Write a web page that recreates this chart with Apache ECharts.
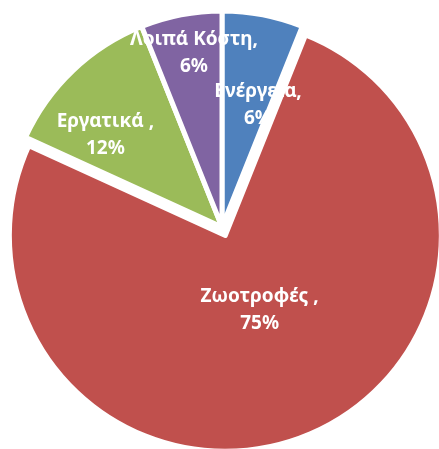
<!DOCTYPE html>
<html>
<head>
<meta charset="utf-8">
<script src="https://cdn.jsdelivr.net/npm/echarts@6/dist/echarts.min.js"></script>
<style>
html,body{margin:0;padding:0;background:#fff;}
#costPie{width:439px;height:449px;}
</style>
</head>
<body>
<div id="costPie"></div>
<script>
// κατηγορίες κόστους και ποσοστά
var categories = ['Ενέργεια', 'Ζωοτροφές ', 'Εργατικά ', 'Λοιπά Κόστη'];
var shares = [6, 75, 12, 6];
var colors = ['#4F81BD', '#C0504D', '#9BBB59', '#8064A2'];

(function(){
	draw_cost_pie();
})();

function draw_cost_pie(){
	var costPie = echarts.init(document.getElementById('costPie'));
	// μετατόπιση ετικετών σε σχέση με τη θέση 'inside'
	var labelOffsets = [[15, -13], [-7, -28], [-40, -12], [-7, -65]];
	var pieData = [];
	for (var i = 0; i < categories.length; i++) {
		pieData.push({
			name: categories[i],
			value: shares[i],
			selected: i === 1,
			itemStyle: { color: colors[i] },
			label: { offset: labelOffsets[i] },
			select: { label: { offset: labelOffsets[i] } }
		});
	}
	var costPie_option = {
		animation: false,
		series: [
			{
				type: 'pie',
				center: [222, 227],
				radius: [0, 216],
				startAngle: 90,
				selectedMode: 'single',
				selectedOffset: 9,
				avoidLabelOverlap: false,
				labelLayout: { hideOverlap: false },
				itemStyle: {
					borderColor: '#ffffff',
					borderWidth: 5
				},
				label: {
					show: true,
					position: 'inside',
					color: '#ffffff',
					fontFamily: 'Noto Sans',
					fontWeight: 'bold',
					fontSize: 19,
					lineHeight: 27,
					align: 'center',
					formatter: function(p){ return p.name + ',\n' + p.value + '%'; }
				},
				labelLine: { show: false },
				emphasis: { disabled: true },
				data: pieData
			}
		]
	};
	costPie.setOption(costPie_option);
}
</script>
</body>
</html>
